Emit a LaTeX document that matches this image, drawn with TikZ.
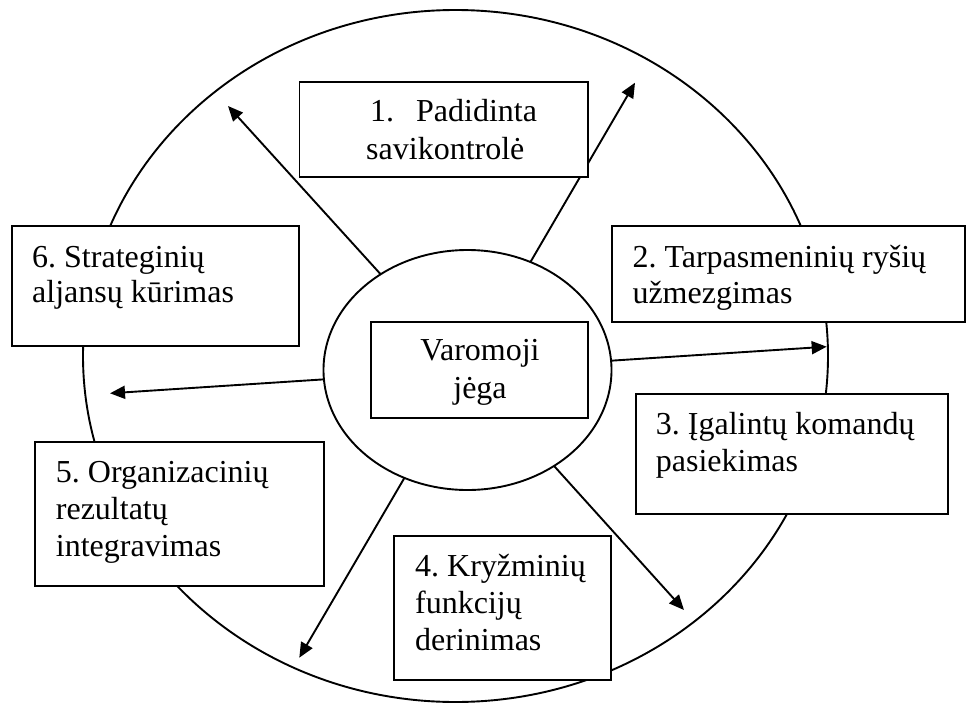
\documentclass[tikz,border=0pt]{standalone}
\usepackage{fontspec}
\setmainfont{Liberation Serif}
\usetikzlibrary{arrows.meta,shapes.geometric}
\frenchspacing
\begin{document}
\begin{tikzpicture}[x=1pt,y=-1pt,
  lw/.style={line width=1.9pt},
  boxnode/.style={draw,lw,fill=white,rectangle,inner sep=0pt,outer sep=0pt},
  txt/.style={anchor=base west,inner sep=0pt,font=\fontsize{32pt}{36.8pt}\selectfont\frenchspacing},
  ctxt/.style={anchor=base,inner sep=0pt,font=\fontsize{32pt}{36.8pt}\selectfont},
  arr/.style={lw,-{Triangle[length=15pt,width=13pt]}}]
\useasboundingbox (0,0) rectangle (966,704);
% outer ellipse
\node[draw,lw,ellipse,minimum width=745pt,minimum height=692pt,inner sep=0pt,outer sep=0pt] (outer) at (455.5,356) {};
% inner ellipse
\node[draw,lw,ellipse,minimum width=288pt,minimum height=240pt,inner sep=0pt,outer sep=0pt] (ell) at (467.5,370) {};
% arrow tips
\coordinate (tTL) at (228,106);
\coordinate (tTR) at (635,82.7);
\coordinate (tR) at (826.7,346.7);
\coordinate (tL) at (110,393.3);
\coordinate (tBL) at (299.3,657.7);
\coordinate (tBR) at (684,610);
\draw[arr] (ell) -- (tTL);
\draw[arr] (ell) -- (tTR);
\draw[arr] (ell) -- (tR);
\draw[arr] (ell) -- (tL);
\draw[arr] (ell) -- (tBL);
\draw[arr] (ell) -- (tBR);
% boxes
\node[boxnode,minimum width=288.2pt,minimum height=95pt] (b1) at (443.6,129.8) {};
\node[boxnode,minimum width=353.1pt,minimum height=95.7pt] (b2) at (788.3,273.85) {};
\node[boxnode,minimum width=312pt,minimum height=119.7pt] (b3) at (791.7,454.15) {};
\node[boxnode,minimum width=216.7pt,minimum height=144.3pt] (b4) at (502.65,607.85) {};
\node[boxnode,minimum width=289pt,minimum height=143.7pt] (b5) at (179.5,513.85) {};
\node[boxnode,minimum width=287.3pt,minimum height=120.3pt] (b6) at (155.35,285.85) {};
\node[boxnode,minimum width=216.7pt,minimum height=96.6pt] (bc) at (479.35,370) {};
% texts
\node[txt] (l1a) at (370,121.7) {1.\hspace{22pt}Padidinta};
\node[txt] (l1b) at (366,159) {savikontrolė};
\node[txt] (l2a) at (632.3,267.3) {2. Tarpasmeninių ryšių};
\node[txt] (l2b) at (632.3,303.3) {užmezgimas};
\node[txt] (l3a) at (655.7,434.3) {3. Įgalintų komandų};
\node[txt] (l3b) at (655.7,471) {pasiekimas};
\node[txt] (l4a) at (415,576.7) {4. Kryžminių};
\node[txt] (l4b) at (415,613.3) {funkcijų};
\node[txt] (l4c) at (415,650) {derinimas};
\node[txt] (l5a) at (55.7,482.3) {5. Organizacinių};
\node[txt] (l5b) at (55.7,519) {rezultatų};
\node[txt] (l5c) at (55.7,556) {integravimas};
\node[txt] (l6a) at (32,267.7) {6. Strateginių};
\node[txt] (l6b) at (32,302) {aljansų kūrimas};
\node[ctxt] (lca) at (480,360.7) {Varomoji};
\node[ctxt] (lcb) at (480,398) {jėga};
\end{tikzpicture}
\end{document}
